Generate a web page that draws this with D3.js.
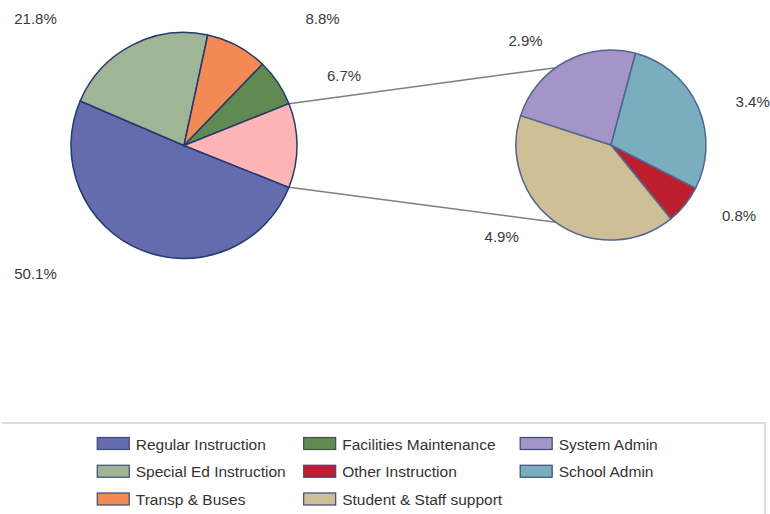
<!DOCTYPE html>
<html><head><meta charset="utf-8">
<script src="https://cdn.jsdelivr.net/npm/d3@7"></script>
<style>html,body{margin:0;padding:0;background:#fff;} svg{display:block;font-family:"Liberation Sans",Arial,sans-serif;}</style>
</head><body><svg id="chart" width="770" height="514"></svg>
<script>
// ---- data ----
const mainCategories = ["Regular Instruction", "Special Ed Instruction", "Transp & Buses", "Facilities Maintenance"];
const mainValues = [50.1, 21.8, 8.8, 6.7];
const subCategories = ["Other Instruction", "Student & Staff support", "System Admin", "School Admin"];
const subValues = [0.8, 4.9, 2.9, 3.4];
const otherLabel = "Other";
const legendCategories = ["Regular Instruction", "Special Ed Instruction", "Transp & Buses",
  "Facilities Maintenance", "Other Instruction", "Student & Staff support",
  "System Admin", "School Admin"];

// ---- styles / layout ----
const colors = {
  "Regular Instruction": "#646cae",
  "Special Ed Instruction": "#a0b496",
  "Transp & Buses": "#f38a55",
  "Facilities Maintenance": "#5f8a52",
  "Other": "#ffb4b6",
  "Other Instruction": "#be1f2d",
  "Student & Staff support": "#cebf96",
  "System Admin": "#a494c7",
  "School Admin": "#7aaebf"
};
const W = 770, H = 514;
const main = {cx: 184, cy: 145.5, r: 113};
const sub = {cx: 611, cy: 145, r: 95};
const subStartDeg = 117;
const connectorDeg = 35.5; // from vertical on the secondary pie
const labelOffsets = {
  "Regular Instruction": [-148.5, 133.5],
  "Special Ed Instruction": [-148.5, -122],
  "Transp & Buses": [138.5, -122],
  "Facilities Maintenance": [160, -65],
  "Other Instruction": [128, 75.5],
  "Student & Staff support": [-109.3, 96.5],
  "System Admin": [-85.5, -99],
  "School Admin": [141.7, -38]
};

const svg = d3.select("#chart");
svg.append("rect").attr("width", W).attr("height", H).attr("fill", "#fff");
const fmt = v => d3.format(".1f")(v) + "%";
const rad = d => d * Math.PI / 180;

// main pie data
const otherTotal = d3.sum(subValues);
const mainData = mainCategories.map((c, i) => ({cat: c, value: mainValues[i], label: true}))
  .concat([{cat: otherLabel, value: otherTotal, label: false}]);
const total = d3.sum(mainData, d => d.value);
const otherSpan = otherTotal / total * 2 * Math.PI;
const mainStart = Math.PI / 2 + otherSpan / 2;
const mainPie = d3.pie().sort(null).value(d => d.value)
  .startAngle(mainStart).endAngle(mainStart + 2 * Math.PI);
const mainArcs = mainPie(mainData);
const mainArc = d3.arc().innerRadius(0).outerRadius(main.r);

// sub pie
const subData = subCategories.map((c, i) => ({cat: c, value: subValues[i], label: true}));
const subPie = d3.pie().sort(null).value(d => d.value)
  .startAngle(rad(subStartDeg)).endAngle(rad(subStartDeg) + 2 * Math.PI);
const subArcs = subPie(subData);
const subArc = d3.arc().innerRadius(0).outerRadius(sub.r);

// connector lines
const otherArc = mainArcs[mainArcs.length - 1];
const pt = (c, r, a) => [c.cx + r * Math.sin(a), c.cy - r * Math.cos(a)];
const lines = [
  [pt(main, main.r, otherArc.startAngle), pt(sub, sub.r, rad(360 - connectorDeg))],
  [pt(main, main.r, otherArc.endAngle), pt(sub, sub.r, rad(180 + connectorDeg))]
];
svg.append("g").selectAll("line").data(lines).join("line")
  .attr("x1", d => d[0][0]).attr("y1", d => d[0][1])
  .attr("x2", d => d[1][0]).attr("y2", d => d[1][1])
  .attr("stroke", "#7f7f7f").attr("stroke-width", 1.5);

svg.append("g").attr("transform", `translate(${main.cx},${main.cy})`)
  .selectAll("path").data(mainArcs).join("path")
  .attr("d", mainArc).attr("fill", d => colors[d.data.cat])
  .attr("stroke", "#233a6c").attr("stroke-width", 1.5).attr("stroke-linejoin", "round");

svg.append("g").attr("transform", `translate(${sub.cx},${sub.cy})`)
  .selectAll("path").data(subArcs).join("path")
  .attr("d", subArc).attr("fill", d => colors[d.data.cat])
  .attr("stroke", "#4f6690").attr("stroke-width", 1.5).attr("stroke-linejoin", "round");

// labels
const labelG = svg.append("g").attr("font-size", "15px").attr("fill", "#3a3a3a").attr("text-anchor", "middle");
mainArcs.filter(d => d.data.label).forEach(d => {
  const o = labelOffsets[d.data.cat];
  labelG.append("text").attr("x", main.cx + o[0]).attr("y", main.cy + o[1]).text(fmt(d.data.value));
});
subArcs.forEach(d => {
  const o = labelOffsets[d.data.cat];
  labelG.append("text").attr("x", sub.cx + o[0]).attr("y", sub.cy + o[1]).text(fmt(d.data.value));
});

// legend box
svg.append("path").attr("d", "M2,423H765V514").attr("fill", "none")
  .attr("stroke", "#dcdcdc").attr("stroke-width", 2);

// legend: column-major, 3 rows
const rows = 3, swW = 32, swH = 12, swGap = 6.5, colGap = 18, rowH = 27.75, legTop = 437.5, legCenter = 377.5;
const lg = svg.append("g").attr("font-size", "15.5px").attr("fill", "#333");
const items = legendCategories.map((c, i) => ({cat: c, col: Math.floor(i / rows), row: i % rows}));
const nCols = d3.max(items, d => d.col) + 1;
// measure text widths
const meas = lg.append("text").attr("visibility", "hidden");
items.forEach(d => { meas.text(d.cat); d.w = meas.node().getComputedTextLength(); });
meas.remove();
const colW = d3.range(nCols).map(c => d3.max(items.filter(d => d.col === c), d => d.w));
const colX = [];
let acc = 0;
colW.forEach((w, i) => { colX.push(acc); acc += swW + swGap + w + (i < nCols - 1 ? colGap : 0); });
const x0 = legCenter - acc / 2;
items.forEach(d => {
  const x = x0 + colX[d.col], y = legTop + d.row * rowH;
  lg.append("rect").attr("x", x).attr("y", y).attr("width", swW).attr("height", swH)
    .attr("fill", colors[d.cat]).attr("stroke", "#3a4a72").attr("stroke-width", 1.2);
  lg.append("text").attr("x", x + swW + swGap).attr("y", y + 12).text(d.cat);
});
</script></body></html>
